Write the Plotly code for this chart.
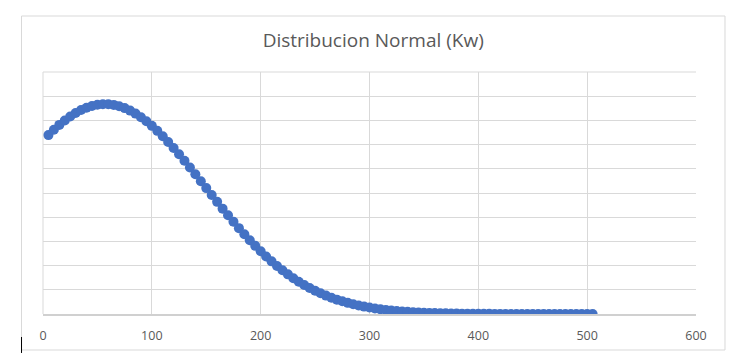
import plotly.graph_objects as go

# Load (Kw) sampled every 5 units
kw = list(range(5, 510, 5))
# Normal-distribution density, in units of 1e-4
density = [
    36.96, 38.06, 39.07, 39.99, 40.82, 41.53, 42.14, 42.63, 42.99, 43.23,
    43.35, 43.34, 43.20, 42.93, 42.54, 42.02, 41.40, 40.66, 39.81, 38.87,
    37.84, 36.73, 35.55, 34.30, 33.00, 31.65, 30.27, 28.87, 27.44, 26.01,
    24.59, 23.17, 21.77, 20.39, 19.05, 17.74, 16.47, 15.25, 14.08, 12.96,
    11.89, 10.88, 9.93, 9.03, 8.19, 7.40, 6.67, 6.00, 5.37, 4.80,
    4.28, 3.80, 3.37, 2.97, 2.62, 2.30, 2.01, 1.76, 1.53, 1.33,
    1.15, 0.99, 0.85, 0.73, 0.62, 0.53, 0.45, 0.38, 0.32, 0.27,
    0.23, 0.19, 0.16, 0.13, 0.11, 0.09, 0.07, 0.06, 0.05, 0.04,
    0.03, 0.03, 0.02, 0.02, 0.015, 0.01, 0.01, 0.008, 0.006, 0.005,
    0.004, 0.003, 0.002, 0.002, 0.001, 0.001, 0.001, 0.001, 0.0005, 0.0004,
    0.0003,
]
x_ticks = [0, 100, 200, 300, 400, 500, 600]
title_text = "Distribucion Normal (Kw)"

grid = "#d9d9d9"
txt = "#595959"
font_family = "Open Sans, Noto Sans, sans-serif"

fig = go.Figure()
fig.add_trace(go.Scatter(
    x=kw, y=density, mode="markers",
    marker=dict(size=10, color="#4472C4", line=dict(width=0)),
    hoverinfo="x+y", showlegend=False,
))

fig.update_layout(
    width=739, height=356,
    margin=dict(l=42.5, r=43, t=72, b=42),
    paper_bgcolor="white", plot_bgcolor="white",
    title=dict(text=title_text, x=0.505, xanchor="center", y=0.888, yanchor="middle",
               font=dict(family=font_family, size=19, color=txt)),
    xaxis=dict(range=[0, 600], tickvals=x_ticks, showgrid=True, gridcolor=grid, gridwidth=1,
               zeroline=False, showline=True, linecolor="#d0d0d0", linewidth=1.5,
               ticks="", tickfont=dict(family=font_family, size=12.5, color=txt),
               ticklabelstandoff=9, mirror=False, fixedrange=True),
    yaxis=dict(range=[0, 50], dtick=5, showgrid=True, gridcolor=grid, gridwidth=1,
               zeroline=False, showline=False, showticklabels=False, ticks="",
               fixedrange=True),
    shapes=[
        dict(type="rect", xref="paper", yref="paper", x0=-0.0329, x1=1.0444, y0=-0.1488, y1=1.2314,
             line=dict(color="#d9d9d9", width=1), fillcolor="rgba(0,0,0,0)", layer="below"),
        dict(type="line", xref="paper", yref="paper", x0=0, x1=0, y0=0, y1=1,
             line=dict(color=grid, width=1), layer="below"),
        dict(type="line", xref="paper", yref="paper", x0=0, x1=1, y0=1, y1=1,
             line=dict(color=grid, width=1), layer="below"),
        dict(type="line", xref="paper", yref="paper", x0=-0.0329, x1=-0.0329, y0=-0.095, y1=-0.161,
             line=dict(color="black", width=1)),
    ],
)

fig.write_html("out.html", config={"displayModeBar": False},
               post_script="document.body.style.margin='0';")
